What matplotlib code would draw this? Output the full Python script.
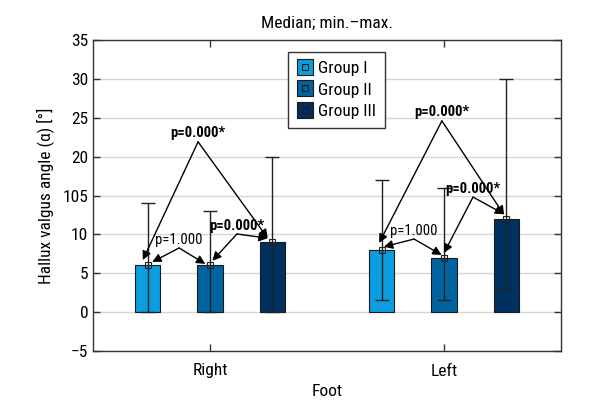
import matplotlib
matplotlib.use("Agg")
import matplotlib.pyplot as plt
from matplotlib.lines import Line2D
import numpy as np

plt.rcParams['font.family'] = ['Roboto Condensed', 'DejaVu Sans']

categories = ["Right", "Left"]
groups = ["Group I", "Group II", "Group III"]
medians = {"Group I": [6, 8], "Group II": [6, 7], "Group III": [9, 12]}
mins = {"Group I": [0, 1.6], "Group II": [0, 1.6], "Group III": [0, 3]}
maxs = {"Group I": [14, 17], "Group II": [13, 16], "Group III": [20, 30]}
colors = {"Group I": "#0a9ee0", "Group II": "#0064a0", "Group III": "#00305e"}
yticks = [-5, 0, 5, 10, 15, 20, 25, 30, 35]
ytick_labels = ["\u22125", "0", "5", "10", "105", "20", "25", "30", "35"]

fig = plt.figure(figsize=(6, 4.2), dpi=100)
ax = fig.add_axes([93/600, 1-351/420, 468/600, 311/420])

x = np.arange(1, len(categories) + 1)
offset = 0.267
width = 0.107
pos = {}
for i, g in enumerate(groups):
    xs = x + (i - 1) * offset
    pos[g] = xs
    med = np.array(medians[g]); lo = np.array(mins[g]); hi = np.array(maxs[g])
    ax.bar(xs, med, width=width, color=colors[g], edgecolor="#1a1a1a", linewidth=0.8, zorder=3)
    ax.errorbar(xs, med, yerr=[med - lo, hi - med], fmt='none', ecolor='#222222',
                elinewidth=1, capsize=5, capthick=1, zorder=4)
    ax.plot(xs, med, 's', ms=4.5, mfc='none', mec='#222222', mew=0.8, zorder=5)

ax.set_xlim(0.5, 2.5)
ax.set_ylim(-5, 35)
ax.set_yticks(yticks)
ax.set_yticklabels(ytick_labels)
ax.set_xticks(x)
ax.set_xticklabels(categories)
ax.tick_params(direction='in', length=5, width=1, top=True, right=True,
               labelsize=12.5, color='#333333')
ax.tick_params(axis='x', pad=9)
ax.yaxis.grid(True, color='#d6d6d6', lw=1, zorder=0)
ax.set_axisbelow(True)
for s in ax.spines.values():
    s.set_color('#333333'); s.set_linewidth(1)

ax.set_title("Median; min.\u2013max.", fontsize=12.5, pad=9)
ax.set_xlabel("Foot", fontsize=12.5, labelpad=4)
ax.set_ylabel("Hallux valgus angle (\u03b1) [\u00b0]", fontsize=12.5, labelpad=6)

# annotations
arrow = dict(arrowstyle='-|>', color='black', lw=1, mutation_scale=13, shrinkA=0, shrinkB=0)

def bracket(apex, t1, t2, label, bold, dy):
    for t in (t1, t2):
        ax.annotate('', xy=t, xytext=apex, arrowprops=arrow, zorder=6)
    ax.text(apex[0], apex[1] + dy, label, ha='center', va='bottom', fontsize=10.5,
            fontweight='bold' if bold else 'normal', zorder=7)

g1, g2, g3 = groups
# Right foot
bracket((0.949, 21.9), (pos[g1][0] - 0.02, medians[g1][0] + 0.7), (pos[g3][0] - 0.02, medians[g3][0] + 0.5), "p=0.000*", True, 0.3)
bracket((0.868, 8.25), (pos[g1][0] + 0.02, medians[g1][0] + 0.45), (pos[g2][0] - 0.02, medians[g2][0] + 0.2), "p=1.000", False, 0.15)
bracket((1.115, 10.05), (pos[g2][0] + 0.01, medians[g2][0] + 0.6), (pos[g3][0] - 0.02, medians[g3][0] + 0.5), "p=0.000*", True, 0.15)
# Left foot
bracket((1.991, 24.6), (pos[g1][1] - 0.01, medians[g1][1] + 0.9), (pos[g3][1] - 0.01, medians[g3][1] + 0.5), "p=0.000*", True, 0.3)
bracket((1.872, 9.4), (pos[g1][1] + 0.01, medians[g1][1] + 0.4), (pos[g2][1] - 0.01, medians[g2][1] + 0.35), "p=1.000", False, 0.15)
bracket((2.124, 14.8), (pos[g2][1] + 0.0, medians[g2][1] + 0.6), (pos[g3][1] - 0.01, medians[g3][1] + 0.6), "p=0.000*", True, 0.15)

# legend
handles = []
for g in groups:
    outer = Line2D([], [], marker='s', ms=11, mfc=colors[g], mec='#1a1a1a', mew=0.8, ls='none')
    inner = Line2D([], [], marker='s', ms=5, mfc='none', mec='#1a1a1a', mew=0.8, ls='none')
    handles.append((outer, inner))
leg = ax.legend(handles, groups, loc='upper left', bbox_to_anchor=(0.4167, 0.961),
                borderaxespad=0, fontsize=12.5, fancybox=False, edgecolor='#333333',
                framealpha=1, handlelength=0.9, handletextpad=0.35, borderpad=0.5,
                labelspacing=0.37)
leg.get_frame().set_linewidth(1)

fig.savefig("out.png", dpi=100)
